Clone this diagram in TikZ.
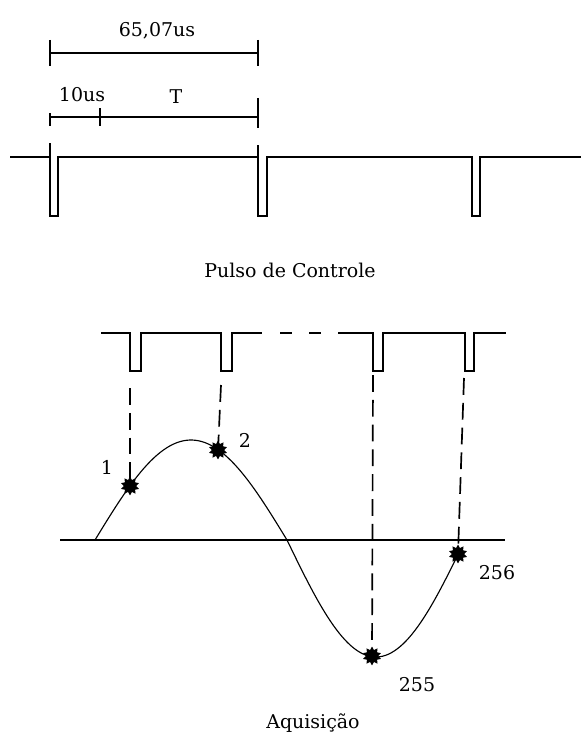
\documentclass[tikz,border=0pt]{standalone}
\usepackage{fontspec}
\setmainfont{DejaVu Serif}
\usetikzlibrary{shapes.geometric}

\begin{document}
\begin{tikzpicture}[x=0.025cm, y=-0.025cm, line width=1.2pt,
  txt/.style={inner sep=1pt, font=\fontsize{13.5}{16}\selectfont},
  sample/.style={star, star points=10, star point ratio=1.5, fill=black, inner sep=0pt, minimum size=0.47cm},
  drop/.style={dash pattern=on 0.42cm off 0.2cm}]
  \useasboundingbox (0,0) rectangle (581,736);

  % medidas do periodo
  \draw (50,53) -- (258,53);
  \draw (50,40) -- (50,66);
  \draw (258,40) -- (258,66);
  \node[txt] (tot) at (157,31) {65,07us};
  \draw (50,117) -- (258,117);
  \draw (50,113) -- (50,126);
  \draw (100,108) -- (100,126);
  \draw (258,98) -- (258,128);
  \node[txt] (ten) at (82,95) {10us};
  \node[txt] (per) at (176,97) {T};

  % pulso de controle
  \draw (10,157) -- (50,157) -- (50,216) -- (58,216) -- (58,157) -- (258,157) -- (258,216) -- (267,216) -- (267,157)
        -- (472,157) -- (472,216) -- (480,216) -- (480,157) -- (581,157);
  \draw (50,143) -- (50,157);
  \draw (258,145) -- (258,157);
  \node[txt] (ctl) at (290,270) {Pulso de Controle};

  % pulsos da aquisicao
  \draw (101,333) -- (130,333) -- (130,371) -- (141,371) -- (141,333) -- (221,333) -- (221,371) -- (232,371) -- (232,333) -- (262,333);
  \draw (280,333) -- (292,333);
  \draw (309,333) -- (321,333);
  \draw (338,333) -- (373,333) -- (373,371) -- (383,371) -- (383,333) -- (465,333) -- (465,371) -- (474,371) -- (474,333) -- (506,333);
  \coordinate (p1) at (130,388);
  \coordinate (p2) at (221,385);
  \coordinate (p3) at (373,375);
  \coordinate (p4) at (464,378);

  % eixo e sinal
  \draw (60,540) -- (505,540);
  \draw[line width=0.8pt] plot[domain=95:287, samples=60] (\x, {540-100*sin((\x-95)/192*180)});
  \draw[line width=0.8pt] plot[domain=287:458, samples=60] (\x, {540+117*sin((\x-287)/178*180)});

  \node[sample] (s1) at (130,486) {};
  \node[sample] (s2) at (218,450) {};
  \node[sample] (s3) at (372,656) {};
  \node[sample] (s4) at (458,554) {};
  \draw[drop] (p1) -- (s1.center);
  \draw[drop] (p2) -- (s2.center);
  \draw[drop] (p3) -- (s3.center);
  \draw[drop] (p4) -- (s4.center);

  \node[txt] (n1) at (107,467) {1};
  \node[txt] (n2) at (245,440) {2};
  \node[txt] (n3) at (417,685) {255};
  \node[txt] (n4) at (497,573) {256};
  \node[txt] (acq) at (313,723) {Aquisição};
\end{tikzpicture}
\end{document}
